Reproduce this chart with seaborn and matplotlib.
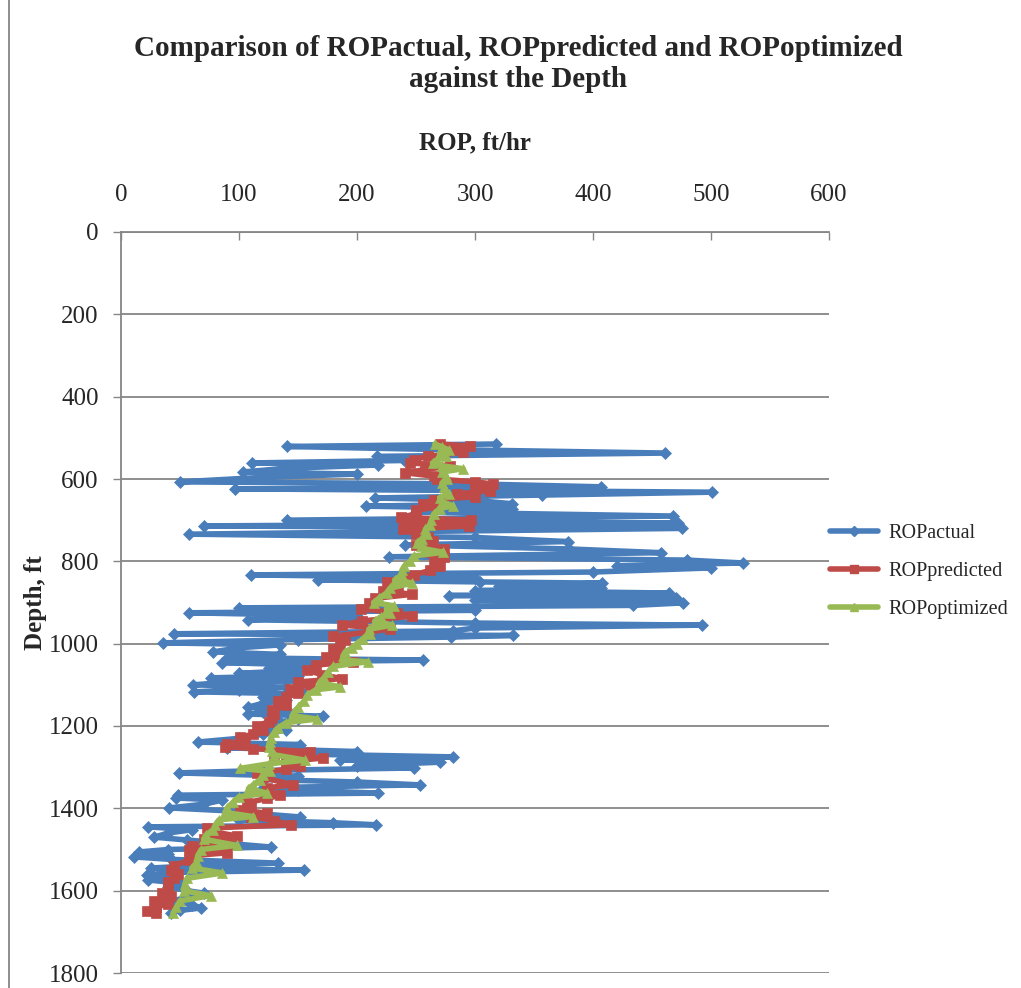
import matplotlib
matplotlib.use("Agg")
import matplotlib.pyplot as plt
from matplotlib.lines import Line2D
import seaborn as sns
import pandas as pd

# ROPactual: depth (ft) and rate of penetration (ft/hr)
depth_actual = [515, 521, 528, 537, 545, 555, 561, 566, 574, 583, 588, 596, 607, 612, 619, 624, 632, 639,
                646, 652, 660, 666, 672, 680, 690, 700, 707, 714, 720, 734, 742, 752, 760, 770, 779, 789,
                797, 804, 811, 816, 826, 833, 840, 845, 850, 853, 860, 865, 871, 877, 883, 889, 895, 901,
                907, 913, 919, 925, 933, 942, 950, 955, 962, 969, 976, 980, 984, 990, 998, 1003, 1010,
                1020, 1026, 1034, 1040, 1046, 1052, 1059, 1065, 1072, 1078, 1083, 1090, 1096, 1100, 1106,
                1112, 1117, 1122, 1130, 1138, 1145, 1154, 1160, 1166, 1171, 1176, 1182, 1190, 1202, 1210,
                1220, 1230, 1239, 1245, 1253, 1262, 1268, 1275, 1282, 1288, 1296, 1302, 1308, 1314, 1322,
                1330, 1336, 1343, 1350, 1356, 1363, 1368, 1375, 1380, 1390, 1399, 1406, 1414, 1421, 1428,
                1435, 1440, 1445, 1452, 1460, 1470, 1477, 1485, 1494, 1500, 1506, 1512, 1518, 1524, 1533,
                1540, 1545, 1550, 1556, 1562, 1568, 1574, 1582, 1590, 1600, 1606, 1615, 1625, 1634, 1642,
                1648, 1654]
rop_actual = [318, 141, 262, 461, 217, 240, 111, 218, 140, 103, 200, 120, 50, 300, 407, 97, 501, 357,
              215, 300, 331, 208, 331, 250, 468, 141, 472, 70, 475, 58, 300, 379, 241, 380, 458, 227,
              480, 527, 420, 500, 400, 110, 300, 167, 304, 408, 320, 407, 300, 464, 278, 470, 300, 476,
              434, 100, 300, 58, 200, 108, 300, 492, 300, 281, 45, 332, 280, 150, 36, 135, 100,
              78, 135, 90, 256, 86, 161, 125, 150, 100, 150, 76, 150, 80, 61, 140,
              100, 62, 155, 120, 140, 120, 108, 141, 120, 108, 171, 150, 135, 124, 140,
              120, 100, 65, 152, 90, 200, 150, 281, 186, 270, 200, 248, 120, 49, 150,
              120, 200, 253, 120, 150, 218, 48, 47, 86, 70, 41, 90, 121, 152, 100,
              180, 216, 23, 60, 40, 28, 56, 90, 127, 40, 15, 40, 11, 42, 133,
              60, 25, 155, 40, 22, 45, 23, 50, 40, 56, 70, 55, 45, 60, 68,
              50, 42]

# ROPpredicted
depth_predicted = [515, 520, 527, 535, 545, 553, 561, 568, 577, 585, 593, 600, 607, 612, 620, 628, 636, 643,
                   650, 660, 668, 676, 685, 693, 700, 707, 714, 722, 733, 740, 750, 760, 769, 778, 790, 800,
                   812, 822, 833, 840, 850, 860, 872, 880, 890, 900, 908, 915, 925, 933, 945, 955, 964, 972,
                   982, 990, 1000, 1012, 1022, 1032, 1044, 1052, 1065, 1075, 1085, 1093, 1100, 1110, 1120,
                   1130, 1140, 1150, 1160, 1170, 1180, 1190, 1200, 1210, 1220, 1227, 1237, 1244, 1250, 1255,
                   1262, 1270, 1278, 1286, 1296, 1305, 1315, 1325, 1343, 1350, 1358, 1368, 1376, 1386, 1395,
                   1404, 1412, 1420, 1430, 1440, 1448, 1458, 1467, 1475, 1484, 1492, 1500, 1508, 1515, 1525,
                   1540, 1550, 1560, 1570, 1580, 1595, 1605, 1614, 1625, 1632, 1640, 1650, 1655]
rop_predicted = [270, 296, 280, 290, 260, 248, 245, 279, 258, 241, 265, 268, 300, 315, 300, 313, 285, 300,
                 265, 256, 268, 250, 250, 237, 297, 240, 295, 239, 250, 260, 264, 250, 274, 262, 274, 265,
                 270, 262, 248, 240, 225, 235, 222, 247, 215, 210, 214, 203, 234, 247, 204, 187, 228, 210,
                 180, 190, 186, 180, 186, 174, 197, 165, 158, 170, 187, 150, 160, 143, 150,
                 140, 133, 140, 128, 130, 128, 125, 115, 120, 112, 101, 105, 90, 88, 112,
                 160, 130, 171, 140, 152, 140, 115, 120, 146, 124, 124, 135, 124, 107, 110,
                 101, 124, 110, 130, 144, 73, 80, 98, 70, 90, 60, 58, 90, 60, 58,
                 45, 42, 48, 45, 40, 40, 35, 42, 28, 40, 30, 22, 30]

# ROPoptimized
depth_optimized = [515, 522, 530, 538, 545, 553, 561, 568, 575, 583, 592, 600, 610, 620, 628, 636, 645, 655,
                   665, 672, 685, 700, 712, 722, 733, 745, 755, 762, 770, 778, 787, 800, 812, 822, 833, 845,
                   853, 865, 877, 889, 900, 908, 916, 925, 935, 945, 955, 965, 976, 988, 1000, 1010, 1020,
                   1030, 1040, 1044, 1055, 1070, 1083, 1095, 1105, 1112, 1125, 1140, 1155, 1165, 1175, 1183,
                   1192, 1205, 1215, 1228, 1240, 1250, 1260, 1270, 1283, 1292, 1303, 1310, 1320, 1330, 1343,
                   1352, 1363, 1372, 1385, 1399, 1410, 1420, 1428, 1440, 1452, 1465, 1475, 1490, 1500, 1515,
                   1533, 1545, 1557, 1570, 1585, 1600, 1612, 1625, 1640, 1655]
rop_optimized = [266, 272, 278, 270, 275, 268, 264, 272, 290, 272, 275, 276, 272, 274, 275, 278, 270, 272,
                 281, 270, 265, 263, 262, 258, 259, 255, 251, 254, 258, 273, 248, 245, 240, 238, 238, 232,
                 247, 228, 225, 219, 214, 231, 225, 228, 220, 215, 230, 210, 211, 205, 200, 196, 190,
                 188, 188, 209, 180, 175, 172, 168, 186, 165, 158, 155, 150, 147, 145, 166,
                 140, 133, 130, 127, 126, 125, 128, 130, 156, 125, 101, 126, 120, 118, 112,
                 108, 124, 100, 95, 90, 88, 112, 83, 80, 78, 72, 70, 98, 68, 65,
                 64, 60, 86, 56, 54, 53, 76, 50, 47, 44]

x_ticks = [0, 100, 200, 300, 400, 500, 600]
y_ticks = [0, 200, 400, 600, 800, 1000, 1200, 1400, 1600, 1800]

series = [
    ("ROPactual", depth_actual, rop_actual, "#4A7EBB", "D", 6),
    ("ROPpredicted", depth_predicted, rop_predicted, "#BE4B48", "s", 6.5),
    ("ROPoptimized", depth_optimized, rop_optimized, "#98B954", "^", 7),
]

sns.set_theme(style="white")
plt.rcParams["font.family"] = ["Liberation Serif", "DejaVu Serif"]

fig = plt.figure(figsize=(10.21, 9.88), dpi=100)
ax = fig.add_axes([121 / 1021, 1 - 973 / 988, 708 / 1021, 741 / 988])

for name, d, r, color, mk, ms in series:
    df = pd.DataFrame({"ROP": r, "Depth": d})
    sns.lineplot(data=df, x="ROP", y="Depth", sort=False, estimator=None, ax=ax,
                 color=color, linewidth=4.0, marker=mk, markersize=ms,
                 markeredgecolor=color, markeredgewidth=0.5, label=name)

ax.set_xlim(0, 600)
ax.set_ylim(1800, 0)
ax.set_xticks(x_ticks)
ax.set_yticks(y_ticks)
ax.xaxis.tick_top()
ax.xaxis.set_label_position("top")
ax.tick_params(axis="x", direction="in", length=6, width=1, color="#868686",
               labelsize=18, pad=19, top=True, bottom=False)
ax.tick_params(axis="y", direction="out", length=6, width=1, color="#868686",
               labelsize=18, pad=10, left=True)

ax.grid(axis="y", color="#868686", linewidth=1.3)
ax.grid(axis="x", visible=False)
for side in ["right", "bottom"]:
    ax.spines[side].set_visible(False)
for side in ["left", "top"]:
    ax.spines[side].set_color("#868686")
    ax.spines[side].set_linewidth(1.3)
ax.set_axisbelow(True)

ax.set_xlabel("ROP, ft/hr", fontsize=18, fontweight="bold", labelpad=25)
ax.set_ylabel("Depth, ft", fontsize=18, fontweight="bold", labelpad=1)

fig.suptitle("Comparison of ROPactual, ROPpredicted and ROPoptimized\nagainst the Depth",
             x=518 / 1021, y=1 - 35 / 988, fontsize=21, fontweight="bold", linespacing=1.2)

handles = [Line2D([], [], color=c, linewidth=4.0, marker=m, markersize=ms - 1, markeredgecolor=c)
           for _, _, _, c, m, ms in series]
ax.legend(handles, [s[0] for s in series], loc="center left", bbox_to_anchor=(0.99, 0.542),
          frameon=False, fontsize=14.5, handlelength=2.4, labelspacing=0.95, handletextpad=0.5,
          borderaxespad=0.0)

fig.add_artist(Line2D([9 / 1021, 9 / 1021], [0, 1], transform=fig.transFigure,
                      color="#868686", linewidth=1.3))

fig.savefig("out.png", dpi=100, facecolor="white")
